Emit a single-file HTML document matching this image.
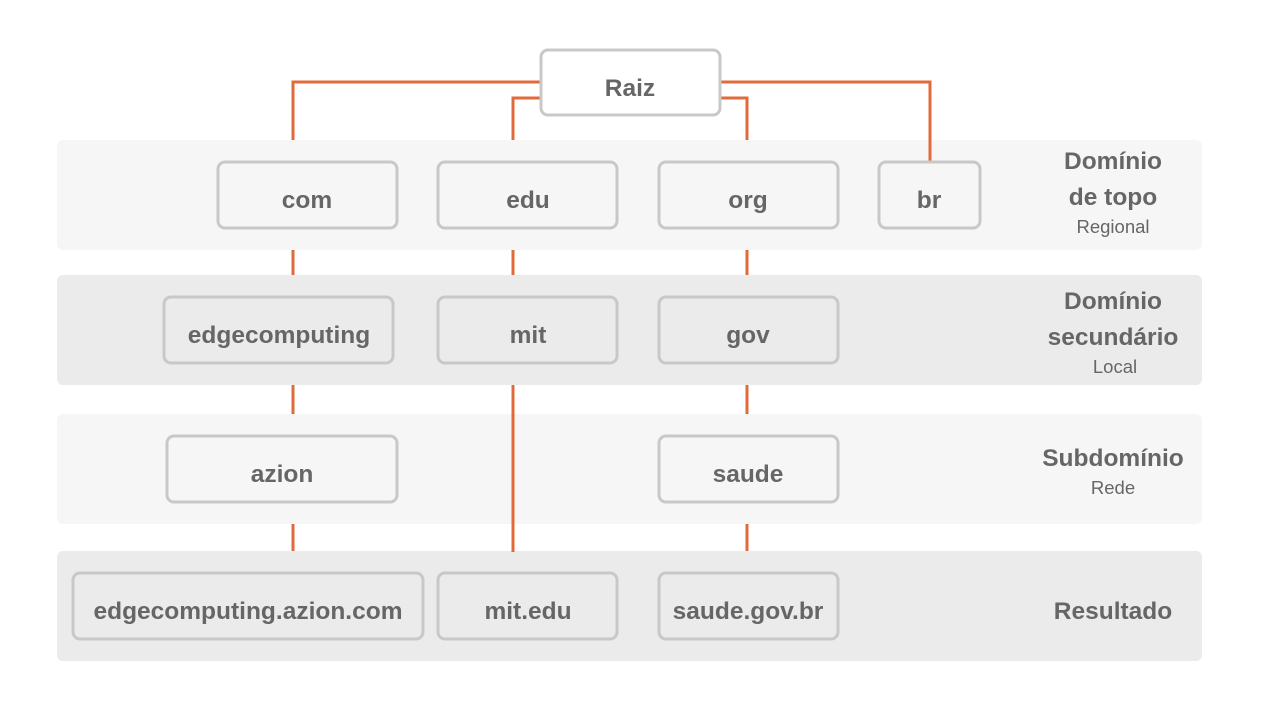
<!DOCTYPE html>
<html><head><meta charset="utf-8"><style>
html,body{margin:0;padding:0;background:#fff;width:1264px;height:712px;overflow:hidden}
text{font-family:"Liberation Sans",sans-serif;fill:#666}
.b{font-weight:bold;font-size:24.5px}
.s{font-size:18.5px}
</style></head><body>
<svg width="1264" height="712" viewBox="0 0 1264 712" xmlns="http://www.w3.org/2000/svg">
<rect x="57" y="140" width="1145" height="110" rx="6" fill="#f6f6f6"/>
<rect x="57" y="275" width="1145" height="110" rx="6" fill="#ebebeb"/>
<rect x="57" y="414" width="1145" height="110" rx="6" fill="#f6f6f6"/>
<rect x="57" y="551" width="1145" height="110" rx="6" fill="#ebebeb"/>
<g stroke="#e06b3a" stroke-width="3" fill="none">
<polyline points="293,140 293,82 541,82"/>
<polyline points="513,140 513,98 541,98"/>
<polyline points="720,98 747,98 747,140"/>
<polyline points="720,82 930,82 930,162"/>
<line x1="293" y1="250" x2="293" y2="275"/><line x1="293" y1="385" x2="293" y2="414"/><line x1="293" y1="524" x2="293" y2="551"/>
<line x1="513" y1="250" x2="513" y2="275"/><line x1="513" y1="385" x2="513" y2="552"/>
<line x1="747" y1="250" x2="747" y2="275"/><line x1="747" y1="385" x2="747" y2="414"/><line x1="747" y1="524" x2="747" y2="551"/>
</g>
<g stroke="#c8c8c8" stroke-width="3">
<rect x="541" y="50" width="179" height="65" rx="7" fill="#fff"/>
<g fill="#f6f6f6">
<rect x="218" y="162" width="179" height="66" rx="7"/>
<rect x="438" y="162" width="179" height="66" rx="7"/>
<rect x="659" y="162" width="179" height="66" rx="7"/>
<rect x="879" y="162" width="101" height="66" rx="7"/>
<rect x="167" y="436" width="230" height="66" rx="7"/>
<rect x="659" y="436" width="179" height="66" rx="7"/>
</g>
<g fill="#ebebeb">
<rect x="164" y="297" width="229" height="66" rx="7"/>
<rect x="438" y="297" width="179" height="66" rx="7"/>
<rect x="659" y="297" width="179" height="66" rx="7"/>
<rect x="73" y="573" width="350" height="66" rx="7"/>
<rect x="438" y="573" width="179" height="66" rx="7"/>
<rect x="659" y="573" width="179" height="66" rx="7"/>
</g>
</g>
<g class="b" text-anchor="middle">
<text x="630" y="96">Raiz</text>
<text x="307" y="208">com</text>
<text x="528" y="208">edu</text>
<text x="748" y="208">org</text>
<text x="929" y="208">br</text>
<text x="279" y="343">edgecomputing</text>
<text x="528" y="343">mit</text>
<text x="748" y="343">gov</text>
<text x="282" y="482">azion</text>
<text x="748" y="482">saude</text>
<text x="248" y="619">edgecomputing.azion.com</text>
<text x="528" y="619">mit.edu</text>
<text x="748" y="619">saude.gov.br</text>
<text x="1113" y="169">Domínio</text>
<text x="1113" y="205">de topo</text>
<text x="1113" y="309">Domínio</text>
<text x="1113" y="345">secundário</text>
<text x="1113" y="466">Subdomínio</text>
<text x="1113" y="619">Resultado</text>
</g>
<g class="s" text-anchor="middle">
<text x="1113" y="233">Regional</text>
<text x="1115" y="373">Local</text>
<text x="1113" y="494">Rede</text>
</g>
</svg>
</body></html>
